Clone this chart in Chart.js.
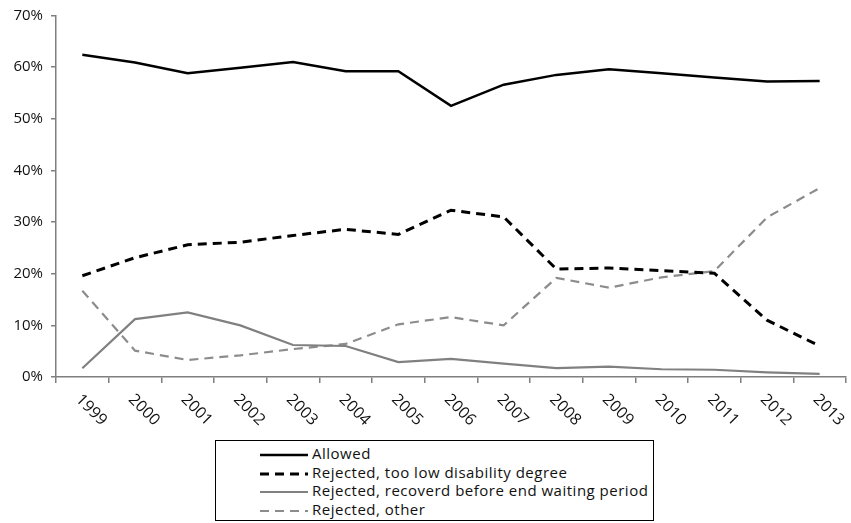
<!DOCTYPE html>
<html>
<head>
<meta charset="utf-8">
<script src="https://cdn.jsdelivr.net/npm/chart.js@4/dist/chart.umd.min.js"></script>
<style>
    body { margin: 0; background: #fff; width: 851px; height: 523px; position: relative; overflow: hidden; }
    #wrap { position: absolute; left: 0; top: 0; width: 851px; height: 435px; }
    #legend {
        position: absolute; left: 215px; top: 440px; width: 437px; height: 79px;
        border: 1px solid #000; font-family: "Open Sans", sans-serif; font-size: 15px; letter-spacing: 0.5px; color: #111;
    }
    #legend div { position: absolute; left: 44px; height: 19px; line-height: 19px; white-space: nowrap; }
    #legend svg { vertical-align: middle; margin-right: 4px; }
</style>
</head>
<body>
<div id="wrap"><canvas id="chart"></canvas></div>
<div id="legend"></div>
<script>
const years = ['1999', '2000', '2001', '2002', '2003', '2004', '2005', '2006', '2007', '2008', '2009', '2010', '2011', '2012', '2013']
const yTicks = [0, 10, 20, 30, 40, 50, 60, 70]

const allowed       = [62.4, 60.9, 58.8, 59.9, 61.0, 59.2, 59.2, 52.5, 56.6, 58.5, 59.6, 58.8, 58.0, 57.2, 57.3]
const tooLowDegree  = [19.6, 23.1, 25.6, 26.1, 27.4, 28.6, 27.6, 32.3, 31.0, 20.9, 21.1, 20.6, 20.1, 11.0, 6.0]
const recovered     = [1.7, 11.2, 12.5, 10.0, 6.2, 6.0, 2.9, 3.5, 2.6, 1.7, 2.0, 1.5, 1.4, 0.9, 0.6]
const other         = [16.7, 5.1, 3.3, 4.2, 5.4, 6.4, 10.2, 11.6, 10.0, 19.2, 17.3, 19.3, 20.5, 30.9, 36.6]

const seriesNames = [
    'Allowed',
    'Rejected, too low disability degree',
    'Rejected, recoverd before end waiting period',
    'Rejected, other'
]

const FONT = '"Open Sans", sans-serif'

// x labels are drawn slanted downwards (like the original), so draw them by hand
const slantedLabels = {
    id: 'slantedLabels',
    afterDraw(chart) {
        const ctx = chart.ctx
        const x = chart.scales.x
        ctx.save()
        ctx.font = '16px ' + FONT
        ctx.fillStyle = '#111'
        ctx.textAlign = 'left'
        ctx.textBaseline = 'middle'
        years.forEach((label, i) => {
            ctx.save()
            ctx.translate(x.getPixelForValue(i) - 4, x.top + 20)
            ctx.rotate(Math.PI / 4)
            ctx.fillText(label, 0, 0)
            ctx.restore()
        })
        ctx.restore()
    }
}

const lineStyles = [
    { color: '#000000', width: 2.5, dash: [] },
    { color: '#000000', width: 3,   dash: [9, 6] },
    { color: '#808080', width: 2.2, dash: [] },
    { color: '#8c8c8c', width: 2.2, dash: [9, 6] }
]

const chart = new Chart(document.getElementById('chart'), {
    type: 'line',
    data: {
        labels: years,
        datasets: [allowed, tooLowDegree, recovered, other].map((data, i) => ({
            label: seriesNames[i],
            data: data,
            borderColor: lineStyles[i].color,
            borderWidth: lineStyles[i].width,
            borderDash: lineStyles[i].dash,
            pointRadius: 0,
            tension: 0,
            fill: false
        }))
    },
    options: {
        responsive: true,
        maintainAspectRatio: false,
        animation: false,
        layout: { padding: { top: 14, right: 5, left: 0, bottom: 0 } },
        plugins: { legend: { display: false }, tooltip: { enabled: false } },
        scales: {
            x: {
                offset: true,
                grid: { offset: true, drawOnChartArea: false, tickLength: 6, color: '#7f7f7f', lineWidth: 1.5 },
                border: { color: '#7f7f7f', width: 1.5 },
                ticks: { display: false },
                afterFit(scale) { scale.height = 58 }
            },
            y: {
                min: 0,
                max: 70,
                afterBuildTicks(scale) { scale.ticks = yTicks.map(v => ({ value: v })) },
                grid: { drawOnChartArea: false, tickLength: 5, color: '#7f7f7f', lineWidth: 1.5 },
                border: { color: '#7f7f7f', width: 1.5 },
                ticks: {
                    padding: 8,
                    color: '#111',
                    font: { family: FONT, size: 15, lineHeight: 1 },
                    callback: v => v + '%'
                },
                afterFit(scale) { scale.width = 56 }
            }
        }
    },
    plugins: [slantedLabels]
})

// legend as real text below the chart
const legend = document.getElementById('legend')
chart.data.datasets.forEach((ds, i) => {
    const row = document.createElement('div')
    row.style.top = (3 + i * 18.7) + 'px'
    const st = lineStyles[i]
    row.innerHTML = '<svg width="48" height="6"><line x1="0" y1="3" x2="48" y2="3" stroke="' + st.color +
        '" stroke-width="' + st.width + '"' + (st.dash.length ? ' stroke-dasharray="' + st.dash.join(',') + '"' : '') +
        '/></svg>'
    row.appendChild(document.createTextNode(ds.label))
    legend.appendChild(row)
})
</script>
</body>
</html>
